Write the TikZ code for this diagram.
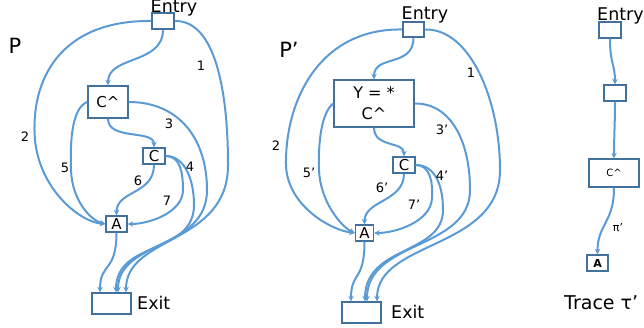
\documentclass[tikz,border=0pt]{standalone}
\usepackage{fontspec}
\setmainfont{DejaVu Sans}
\usetikzlibrary{arrows.meta}
\definecolor{edgeblue}{HTML}{5B9BD5}
\definecolor{boxblue}{HTML}{41719C}
\begin{document}
\begin{tikzpicture}[x=1pt,y=-1pt,
  blk/.style={draw=boxblue, line width=1.4pt, fill=white, inner sep=0pt, font=\fontsize{15}{18}\selectfont},
  edge/.style={draw=edgeblue, line width=2pt, -{Stealth[length=5.5pt,width=5.5pt]}},
  lbl/.style={font=\fontsize{13}{15}\selectfont, inner sep=0pt},
  ttl/.style={font=\fontsize{17.5}{20}\selectfont, inner sep=0pt},
  big/.style={font=\fontsize{21}{25}\selectfont, inner sep=0pt}]
\useasboundingbox (0,0) rectangle (644,328);

% ---------- P ----------
\node[big] (tP) at (15,46) {P};
\node[ttl] (tEntry1) at (174,7.5) {Entry};
\node[blk, minimum width=22pt, minimum height=16pt] (entry1) at (163,21) {};
\node[blk, minimum width=40pt, minimum height=32pt] (chat1) at (108,102) {C\^{}};
\node[blk, minimum width=22pt, minimum height=16pt] (c1) at (154,156) {C};
\node[blk, minimum width=21pt, minimum height=16pt] (a1) at (116.5,224) {A};
\node[blk, minimum width=39pt, minimum height=21pt] (exit1) at (111.5,303.5) {};
\node[ttl, anchor=west] (tExit1) at (137,303) {Exit};

\draw[edge] (entry1.south) .. controls +(0,35) and +(0,-30) .. (chat1.north);
\draw[edge] (chat1.south) .. controls +(0,22) and +(0,-18) .. (c1.north);
\draw[edge] (c1.south) .. controls +(0,30) and +(0,-25) .. (a1.north);
\draw[edge] (a1.south) .. controls +(0,40) and +(0,-30) .. ([xshift=-11.5pt]exit1.north);
\draw[edge] (entry1.west) .. controls (60,20) and (30,80) .. (35,140) .. controls (40,190) and (80,222) .. (a1.west);
\draw[edge] (chat1.west) .. controls (72,108) and (70,140) .. (71,170) .. controls (72,200) and (90,220) .. (a1.west);
\draw[edge] (entry1.east) .. controls (215,20) and (228,90) .. (228,165) .. controls (228,245) and (126,235) .. ([xshift=14.5pt]exit1.north);
\draw[edge] (chat1.east) .. controls (180,102) and (207,140) .. (207,190) .. controls (207,250) and (118,240) .. ([xshift=6.5pt]exit1.north);
\draw[edge] (c1.east) .. controls (185,156) and (194,180) .. (194,205) .. controls (194,255) and (116,240) .. ([xshift=4.5pt]exit1.north);
\draw[edge] (c1.east) .. controls (180,156) and (183,172) .. (183,190) .. controls (183,212) and (150,224) .. (a1.east);

\node[lbl] (l1) at (201,66) {1};
\node[lbl] (l2) at (25,137) {2};
\node[lbl] (l3) at (169,124) {3};
\node[lbl] (l4) at (190,167) {4};
\node[lbl] (l5) at (65,168) {5};
\node[lbl] (l6) at (138,181) {6};
\node[lbl] (l7) at (167,201) {7};

% ---------- P' ----------
\node[big] (tP2) at (289,50) {P’};
\node[ttl] (tEntry2) at (425,15) {Entry};
\node[blk, minimum width=21pt, minimum height=15pt] (entry2) at (413.5,29.5) {};
\node[blk, minimum width=80pt, minimum height=47pt, align=center, font=\fontsize{16}{19}\selectfont] (ychat2) at (374,103.5) {Y = *\\[2pt]C\^{}};
\node[blk, minimum width=22pt, minimum height=16pt] (c2) at (404,165) {C};
\node[blk, minimum width=18pt, minimum height=16pt] (a2) at (364.5,233) {A};
\node[blk, minimum width=39pt, minimum height=21pt] (exit2) at (361.5,312.5) {};
\node[ttl, anchor=west] (tExit2) at (391,312) {Exit};

\draw[edge] (entry2.south) .. controls +(0,30) and +(0,-25) .. (ychat2.north);
\draw[edge] (ychat2.south) .. controls +(0,20) and +(0,-15) .. (c2.north);
\draw[edge] (c2.south) .. controls +(0,28) and +(0,-24) .. (a2.north);
\draw[edge] (a2.south) .. controls +(0,40) and +(0,-30) .. ([xshift=-10.5pt]exit2.north);
\draw[edge] (entry2.west) .. controls (320,28) and (285,100) .. (286,165) .. controls (287,205) and (330,230) .. (a2.west);
\draw[edge] (ychat2.west) .. controls (322,112) and (318,140) .. (319,170) .. controls (320,200) and (340,226) .. (a2.west);
\draw[edge] (entry2.east) .. controls (470,28) and (500,100) .. (500,170) .. controls (500,250) and (377,240) .. ([xshift=15.5pt]exit2.north);
\draw[edge] (ychat2.east) .. controls (450,103) and (470,140) .. (470,190) .. controls (470,250) and (367,240) .. ([xshift=5.5pt]exit2.north);
\draw[edge] (c2.east) .. controls (435,165) and (443,185) .. (443,210) .. controls (443,255) and (365,245) .. ([xshift=3.5pt]exit2.north);
\draw[edge] (c2.east) .. controls (430,165) and (433,182) .. (432,198) .. controls (431,222) and (395,233) .. (a2.east);

\node[lbl] (m1) at (471,73) {1};
\node[lbl] (m2) at (276,146) {2};
\node[lbl] (m3) at (442,130) {3’};
\node[lbl] (m4) at (442,176) {4’};
\node[lbl] (m5) at (309,173) {5’};
\node[lbl] (m6) at (382,188) {6’};
\node[lbl] (m7) at (414,205) {7’};

% ---------- Trace ----------
\node[ttl, anchor=west] (tEntry3) at (597,16) {Entry};
\node[blk, minimum width=22pt, minimum height=16pt] (entry3) at (610,30) {};
\node[blk, minimum width=22pt, minimum height=16pt] (box3) at (615,93) {};
\node[blk, minimum width=50pt, minimum height=28pt, font=\fontsize{10}{12}\selectfont] (chat3) at (614,173) {C\^{}};
\node[blk, minimum width=21pt, minimum height=16pt, font=\fontsize{11}{13}\selectfont\bfseries] (a3) at (597.5,263) {A};
\node[ttl, anchor=west, font=\fontsize{19}{22}\selectfont] (tTrace) at (564,303) {Trace τ’};

\draw[edge] (entry3.south) .. controls +(0,25) and +(0,-20) .. (box3.north);
\draw[edge] (box3.south) .. controls +(0,20) and +(0,-20) .. (chat3.north);
\draw[edge] (chat3.south) .. controls +(0,35) and +(0,-30) .. (a3.north);
\node[lbl, font=\fontsize{11}{13}\selectfont] (pi) at (618,228) {π'};
\end{tikzpicture}
\end{document}
